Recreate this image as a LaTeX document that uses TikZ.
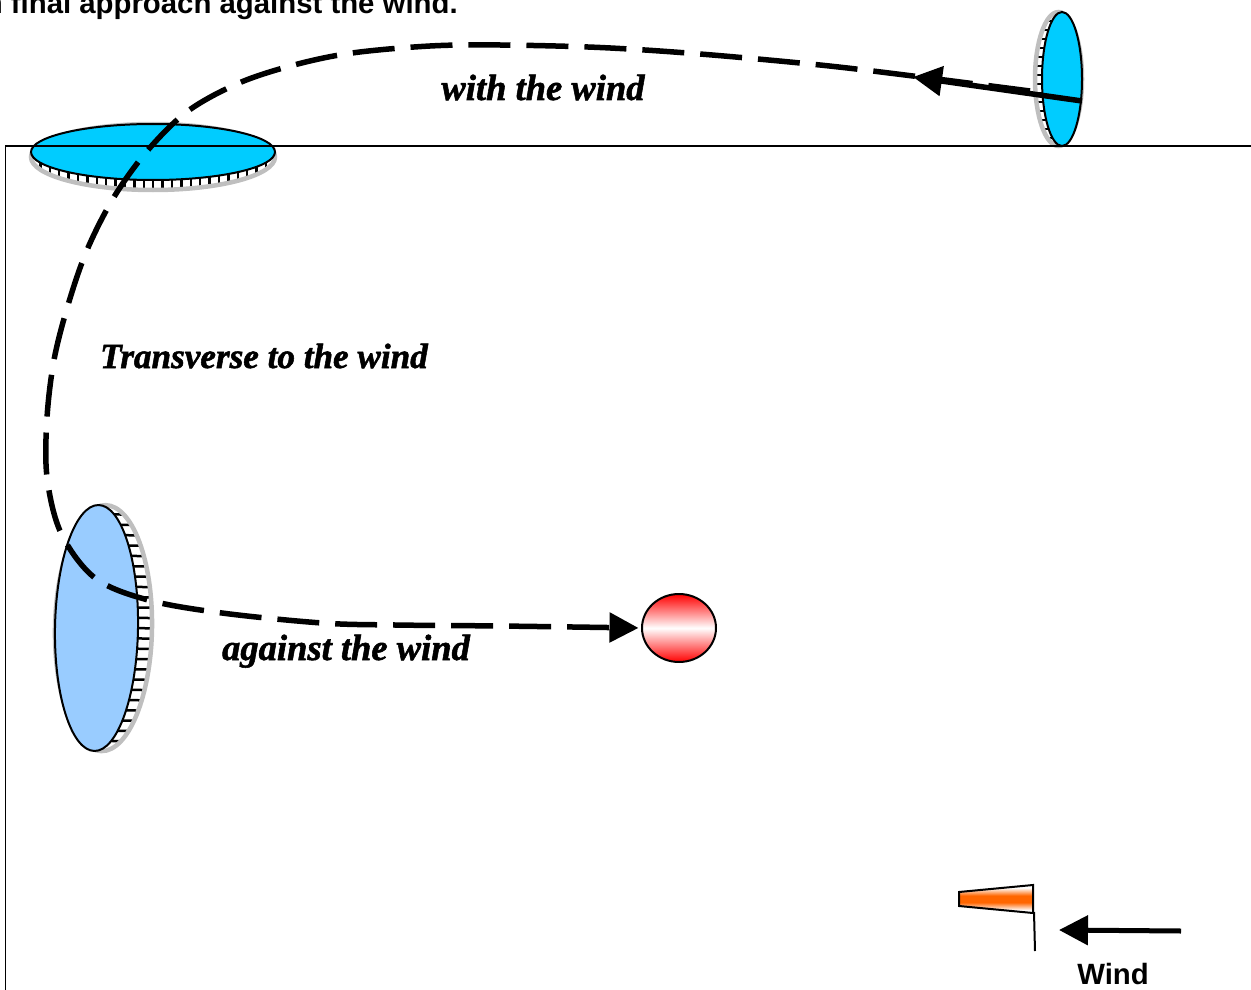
\documentclass[tikz,border=0pt]{standalone}
\usepackage{fontspec}
\setmainfont{Liberation Sans}
\newfontfamily\windfont[BoldItalicFeatures={FakeBold=1.5}]{Liberation Serif}
\usetikzlibrary{arrows.meta,shapes.geometric}
\definecolor{diskcyan}{HTML}{00CCFF}
\definecolor{diskblue}{HTML}{99CCFF}
\definecolor{flagorange}{HTML}{FF6600}
\pgfdeclareverticalshading{flagband}{100bp}{color(0bp)=(white); color(30bp)=(white); color(44bp)=(flagorange); color(56bp)=(flagorange); color(70bp)=(white); color(100bp)=(white)}
\tikzset{
	course/.style={line width=1.1mm, dash pattern=on 8.4mm off 3.2mm},
	bigtip/.style={-{Triangle[length=5.8mm,width=5.8mm]}},
	windtext/.style={anchor=base, font=\windfont\bfseries\itshape\fontsize{20.8}{24}\selectfont},
	boldtext/.style={font=\bfseries\fontsize{16.7}{20}\selectfont, inner sep=0pt}
}
% center, rotation, half length, half width, rim half width, rim offset, tick step, fill
\def\coin(#1)(#2:#3:#4:#5:#6:#7)#8{
	\begin{scope}[shift={(#1)},rotate=#2]
		\fill[white] (0,#6) ellipse [x radius=#3, y radius=#5];
		\begin{scope}
			\clip (0,#6) ellipse [x radius=#3, y radius=#5];
			\foreach \t in {0,...,30}
				\draw[line width=0.5mm] ({-#3+\t*#7},-60) -- ({-#3+\t*#7},60);
		\end{scope}
		\draw[line width=0.9mm, color=black!25] (0,#6) ellipse [x radius=#3, y radius=#5];
		\draw[line width=0.4mm, fill=#8] (0,0) ellipse [x radius=#3, y radius=#4];
	\end{scope}
}

\begin{document}
\begin{tikzpicture}[x=0.02cm, y=-0.02cm]
		%%%%% START %%%%%
		\useasboundingbox (0, 0) rectangle (1251, 990);
		
		\node[boldtext, anchor=base east] (title) at (458, 14) {n final approach against the wind.};
		
		% gates
		\coin(153, 152)(0:122:28:33:5:9.4){diskcyan}
		\coin(1062, 79)(-90:67:20:23.5:3.5:9){diskcyan}
		\coin(96.5, 628)(89:123:41.5:48.5:7:10.3){diskblue}
		
		% field
		\draw[line width=0.35mm] (5.5, 990) -- (5.5, 146) -- (1251, 146);
		
		\node[ellipse, draw, line width=0.4mm, minimum width=1.48cm, minimum height=1.36cm, inner sep=0pt, top color=red, bottom color=red, middle color=white] (target) at (679, 628) {};
		
		% course
		\coordinate (start) at (1082, 101);
		\coordinate (tip) at (913, 77);
		\draw[line width=1.1mm, bigtip] (start) -- (tip);
		\draw[course, bigtip, shorten >=0.5mm] plot[smooth, tension=0.55] coordinates {(1030, 91) (913, 76) (820, 65) (700, 54) (600, 47.5) (500, 45) (430, 46) (352, 53) (294, 65) (239, 83) (188, 111) (148, 150) (114, 197) (87, 250) (68, 305) (54, 360) (47, 418) (47, 477) (61, 533) (95, 578) (148, 600) (222, 613) (322, 623) (395, 625) (500, 626) (target.west)};
		
		\node[windtext] (withwind) at (543, 100) {with the wind};
		\node[windtext, font=\windfont\bfseries\itshape\fontsize{20}{24}\selectfont] (transverse) at (264, 368) {Transverse to the wind};
		\node[windtext] (againstwind) at (346, 660) {against the wind};
		
		% wind sock
		\draw[line width=0.4mm, shading=flagband] (959, 892) -- (1033, 885) -- (1033, 913) -- (959, 906) -- cycle;
		\coordinate (poletop) at (1034, 912);
		\coordinate (polefoot) at (1035, 951);
		\draw[line width=0.4mm] (poletop) -- (polefoot);
		
		\coordinate (windtail) at (1181, 931);
		\coordinate (windtip) at (1059, 930);
		\draw[line width=1mm, bigtip] (windtail) -- (windtip);
		\node[boldtext, anchor=base] (windlabel) at (1113, 984) {Wind};
		
		%%%%% END %%%%%
	\end{tikzpicture}
\end{document}
